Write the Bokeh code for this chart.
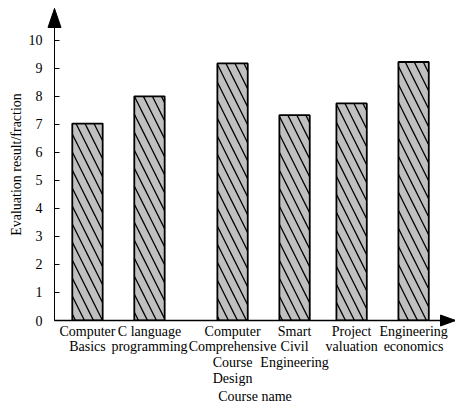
from bokeh.plotting import figure
from bokeh.models import Range1d, FixedTicker, ColumnDataSource
from bokeh.embed import file_html
from bokeh.resources import INLINE

# ---- data ----
courses = [
    "Computer\nBasics",
    "C language\nprogramming",
    "Computer\nComprehensive\nCourse\nDesign",
    "Smart\nCivil\nEngineering",
    "Project\nvaluation",
    "Engineering\neconomics",
]
scores = [7.03, 8.0, 9.18, 7.33, 7.75, 9.23]
y_ticks = [0, 1, 2, 3, 4, 5, 6, 7, 8, 9, 10]

# ---- layout ----
slots = [1.0, 2.0, 3.34, 4.34, 5.26, 6.26]   # category slot positions
FW, FH = 401, 312                            # frame size in px
XS, XE = 0.468, 0.468 + FW / 62.0            # x extent (axis origin .. arrow tip)
YS, YE = 0.0, 11.14                          # y extent (axis origin .. arrow tip)
SX, SY = FW / (XE - XS), FH / (YE - YS)      # px per data unit
FONT = "Liberation Serif"

src = ColumnDataSource(dict(x=slots, top=scores, name=courses))

p = figure(frame_width=FW, frame_height=FH, output_backend="svg", toolbar_location=None,
           x_range=Range1d(XS, XE), y_range=Range1d(YS, YE),
           min_border_left=54, min_border_right=0, min_border_top=8,
           min_border_bottom=40)
p.outline_line_color = None
p.grid.grid_line_color = None
p.background_fill_color = "white"
p.border_fill_color = "white"

p.vbar(x="x", top="top", bottom=YS, width=0.49, source=src,
       fill_color="#c0c0c0", line_color="black", line_width=1.8,
       hatch_pattern="\\", hatch_color="black", hatch_weight=1.3, hatch_scale=18)

# y axis
ya = p.yaxis[0]
ya.ticker = FixedTicker(ticks=y_ticks)
ya.minor_tick_line_color = None
ya.major_tick_in = 5
ya.major_tick_out = 0
ya.major_tick_line_color = "black"
ya.axis_line_color = "black"
ya.axis_line_width = 1
ya.major_label_standoff = 12
ya.major_label_text_font = FONT
ya.major_label_text_font_size = "14px"
ya.major_label_text_color = "black"
ya.axis_label = "Evaluation result/fraction"
ya.axis_label_text_font = FONT
ya.axis_label_text_font_size = "14px"
ya.axis_label_text_font_style = "normal"
ya.axis_label_text_color = "black"
ya.axis_label_standoff = 2

# x axis
xa = p.xaxis[0]
xa.ticker = FixedTicker(ticks=slots)
xa.major_label_overrides = {s: c for s, c in zip(slots, courses)}
xa.minor_tick_line_color = None
xa.major_tick_in = 0
xa.major_tick_out = 0
xa.axis_line_color = "black"
xa.axis_line_width = 1.5
xa.major_label_standoff = 3
xa.major_label_text_font = FONT
xa.major_label_text_font_size = "14px"
xa.major_label_text_line_height = 1.05
xa.major_label_text_color = "black"
xa.axis_label = "Course name"
xa.axis_label_text_font = FONT
xa.axis_label_text_font_size = "14px"
xa.axis_label_text_line_height = 1.0
xa.axis_label_text_font_style = "normal"
xa.axis_label_text_color = "black"
xa.axis_label_standoff = 0

# arrow heads at the ends of both axes (drawn above the frame clip)
yh_w, yh_l = 13, 19     # y head width / length, px
xh_w, xh_l = 11, 15     # x head width / length, px
head_xs = [
    [XS - yh_w / 2 / SX, XS, XS + yh_w / 2 / SX],
    [XE - xh_l / SX, XE, XE - xh_l / SX],
]
head_ys = [
    [YE - yh_l / SY, YE, YE - yh_l / SY],
    [YS - xh_w / 2 / SY, YS, YS + xh_w / 2 / SY],
]
p.patches(xs=head_xs, ys=head_ys, fill_color="black", line_color="black",
          line_width=1, level="overlay")

open("out.html", "w").write(file_html(p, INLINE))
